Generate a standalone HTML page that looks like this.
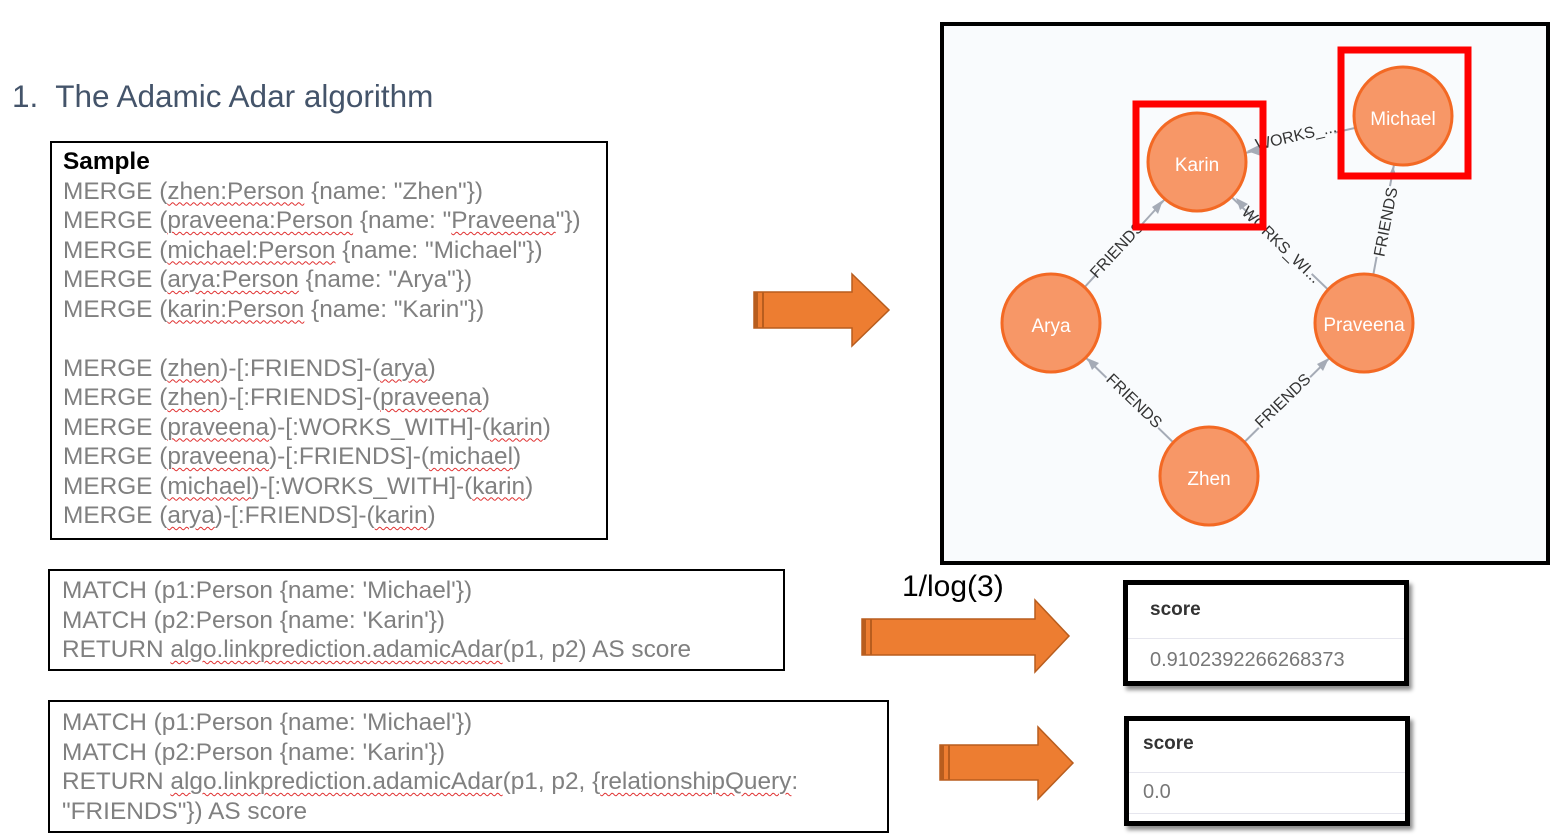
<!DOCTYPE html>
<html><head><meta charset="utf-8"><style>
body{margin:0;width:1564px;height:840px;background:#fff;position:relative;overflow:hidden;font-family:"Liberation Sans",sans-serif;}
.abs{position:absolute;}
.box{position:absolute;border:2px solid #000;box-sizing:border-box;}
.code{position:absolute;font-size:24.4px;line-height:29.5px;color:#808080;white-space:pre;}
.u{text-decoration:underline wavy #e03030 1px;text-underline-offset:3px;}
.sb{position:absolute;border:5px solid #000;box-sizing:border-box;background:#fff;box-shadow:3px 4px 4px rgba(0,0,0,.45);}
.sh{position:absolute;left:0;right:0;border-bottom:1px solid #e6e6ee;}
</style></head><body>
<div class="abs" style="left:12px;top:78px;font-size:31.5px;color:#44546a;white-space:pre;">1.  The Adamic Adar algorithm</div>

<div class="box" style="left:50px;top:141px;width:558px;height:399px;"></div>
<div class="code" style="left:63px;top:147px;"><b style="color:#000">Sample</b>
MERGE (<span class="u">zhen:Person</span> {name: "Zhen"})
MERGE (<span class="u">praveena:Person</span> {name: "<span class="u">Praveena</span>"})
MERGE (<span class="u">michael:Person</span> {name: "Michael"})
MERGE (<span class="u">arya:Person</span> {name: "Arya"})
MERGE (<span class="u">karin:Person</span> {name: "Karin"})

MERGE (<span class="u">zhen</span>)-[:FRIENDS]-(<span class="u">arya</span>)
MERGE (<span class="u">zhen</span>)-[:FRIENDS]-(<span class="u">praveena</span>)
MERGE (<span class="u">praveena</span>)-[:WORKS_WITH]-(<span class="u">karin</span>)
MERGE (<span class="u">praveena</span>)-[:FRIENDS]-(<span class="u">michael</span>)
MERGE (<span class="u">michael</span>)-[:WORKS_WITH]-(<span class="u">karin</span>)
MERGE (<span class="u">arya</span>)-[:FRIENDS]-(<span class="u">karin</span>)</div>

<div class="box" style="left:48px;top:569px;width:737px;height:102px;"></div>
<div class="code" style="left:62px;top:576px;">MATCH (p1:Person {name: 'Michael'})
MATCH (p2:Person {name: 'Karin'})
RETURN <span class="u">algo.linkprediction.adamicAdar</span>(p1, p2) AS score</div>

<div class="box" style="left:48px;top:700px;width:841px;height:133px;"></div>
<div class="code" style="left:62px;top:708px;">MATCH (p1:Person {name: 'Michael'})
MATCH (p2:Person {name: 'Karin'})
RETURN <span class="u">algo.linkprediction.adamicAdar</span>(p1, p2, {<span class="u">relationshipQuery</span>:
"FRIENDS"}) AS score</div>

<div class="abs" style="left:902px;top:570px;font-size:30px;color:#000;">1/log(3)</div>

<svg class="abs" style="left:0;top:0" width="1564" height="840">
<g fill="#ed7d31" stroke="#b85d1e" stroke-width="1.5">
<polygon points="754,292 852,292 852,274 889,310 852,346 852,328 754,328"/>
<polygon points="862,619 1035,619 1035,600 1069,636 1035,672 1035,655 862,655"/>
<polygon points="940,745 1038,745 1038,727 1073,763 1038,799 1038,780 940,780"/>
</g>
<g fill="#b85d1e"><rect x="754" y="292" width="4" height="36"/><rect x="762" y="292" width="2" height="36"/>
<rect x="862" y="619" width="4" height="36"/><rect x="870" y="619" width="2" height="36"/>
<rect x="940" y="745" width="4" height="35"/><rect x="948" y="745" width="2" height="35"/></g>

<rect x="942" y="24" width="606" height="539" fill="#f9fbfd" stroke="#000" stroke-width="4"/>
<g stroke="#a5abb6" stroke-width="2" fill="none">
<line x1="1051" y1="324" x2="1197" y2="164"/>
<line x1="1364" y1="324" x2="1197" y2="164"/>
<line x1="1403" y1="117" x2="1197" y2="164"/>
<line x1="1364" y1="324" x2="1403" y2="117"/>
<line x1="1209" y1="477" x2="1051" y2="324"/>
<line x1="1209" y1="477" x2="1364" y2="324"/>
</g>
<g fill="#a5abb6">
<polygon points="1163,200 1152,207 1158,214"/>
<polygon points="1236,198 1240,210 1248,204"/>
<polygon points="1247,151 1259,145 1261,156"/>
<polygon points="1393,166 1388,178 1397,178"/>
<polygon points="1087,358 1092,370 1099,363"/>
<polygon points="1329,358 1317,364 1323,371"/>
</g>
<g font-family="Liberation Sans,sans-serif" font-size="16" fill="#333">
<rect x="1085" y="240" width="60" height="18" fill="#f9fbfd" transform="rotate(-47 1115 250)"/>
<text x="1117" y="255" text-anchor="middle" transform="rotate(-47 1117 250)">FRIENDS</text>
<rect x="1262" y="126" width="72" height="18" fill="#f9fbfd" transform="rotate(-13 1298 135)"/>
<text x="1296" y="141" text-anchor="middle" transform="rotate(-13 1296 136)">WORKS_...</text>
<rect x="1245" y="235" width="80" height="18" fill="#f9fbfd" transform="rotate(44 1285 244)"/>
<text x="1281" y="250" text-anchor="middle" transform="rotate(44 1281 245)">WORKS_WI...</text>
<rect x="1350" y="213" width="72" height="18" fill="#f9fbfd" transform="rotate(-79 1386 222)"/>
<text x="1386" y="227" text-anchor="middle" transform="rotate(-79 1386 222)">FRIENDS</text>
<rect x="1098" y="392" width="72" height="18" fill="#f9fbfd" transform="rotate(44 1134 401)"/>
<text x="1134" y="406" text-anchor="middle" transform="rotate(44 1134 401)">FRIENDS</text>
<rect x="1247" y="392" width="72" height="18" fill="#f9fbfd" transform="rotate(-44 1283 401)"/>
<text x="1283" y="406" text-anchor="middle" transform="rotate(-44 1283 401)">FRIENDS</text>
</g>
<g fill="#f79767" stroke="#f36924" stroke-width="3">
<circle cx="1197" cy="162" r="49"/><circle cx="1403" cy="116" r="49"/>
<circle cx="1051" cy="323" r="49"/><circle cx="1364" cy="323" r="49"/>
<circle cx="1209" cy="476" r="49"/>
</g>
<g font-family="Liberation Sans,sans-serif" font-size="19" fill="#fff" text-anchor="middle">
<text x="1197" y="171">Karin</text><text x="1403" y="125">Michael</text>
<text x="1051" y="332">Arya</text><text x="1364" y="331">Praveena</text>
<text x="1209" y="485">Zhen</text>
</g>
<g fill="none" stroke="#ff0000" stroke-width="7">
<rect x="1136" y="104" width="127" height="123"/>
<rect x="1341" y="50" width="127" height="126"/>
</g>
</svg>

<div class="sb" style="left:1123px;top:580px;width:286px;height:106px;">
<div class="abs" style="left:22px;top:14px;font-size:19px;font-weight:bold;color:#333;">score</div>
<div class="sh" style="top:53px;"></div>
<div class="abs" style="left:22px;top:64px;font-size:20px;color:#777;">0.9102392266268373</div>
</div>
<div class="sb" style="left:1124px;top:716px;width:286px;height:110px;">
<div class="abs" style="left:14px;top:12px;font-size:19px;font-weight:bold;color:#333;">score</div>
<div class="sh" style="top:51px;"></div>
<div class="abs" style="left:14px;top:60px;font-size:20px;color:#777;">0.0</div>
<div class="sh" style="top:92px;"></div>
</div>
</body></html>
